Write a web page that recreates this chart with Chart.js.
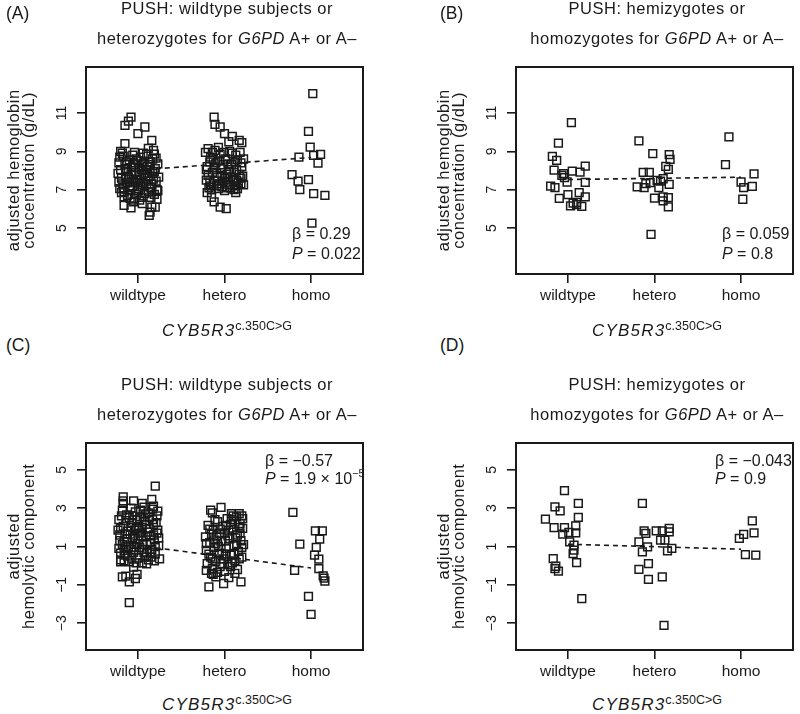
<!DOCTYPE html>
<html lang="en">
<head>
  <meta charset="UTF-8" />
  <title>CYB5R3 c.350C>G and hemoglobin / hemolysis</title>
  <script src="https://cdn.jsdelivr.net/npm/chart.js"></script>
  <style>
    body { margin: 0; background: #fff; }
    #page { position: relative; width: 800px; height: 714px; overflow: hidden; background: #fff; }
    canvas { position: absolute; }
    .t { position: absolute; font-family: "Liberation Sans", Arial, sans-serif; color: #1a1a1a; white-space: nowrap; line-height: 1; }
    .ttl { font-size: 16.5px; letter-spacing: 0.5px; width: 282px; text-align: center; }
    .lab { font-size: 17.5px; }
    .yt { font-size: 16.5px; letter-spacing: 0.5px; width: 240px; height: 16.5px; text-align: center; transform: rotate(-90deg); }
    .xt { font-size: 17px; width: 282px; text-align: center; }
    .xt i { letter-spacing: 1.2px; }
    .sup { position: relative; top: -6.5px; font-size: 12.5px; font-style: normal; }
    .ann { font-size: 16px; }
    .ann .sup { font-size: 11px; top: -7px; }
  </style>
</head>
<body>
<div id="page">
  <canvas id="chartA" width="370" height="310" style="left:0;top:0"></canvas>
  <canvas id="chartB" width="370" height="310" style="left:430px;top:0"></canvas>
  <canvas id="chartC" width="370" height="310" style="left:0;top:376px"></canvas>
  <canvas id="chartD" width="370" height="310" style="left:430px;top:376px"></canvas>

  <div class="t lab" style="left:6px;top:5px">(A)</div>
  <div class="t lab" style="left:440px;top:5px">(B)</div>
  <div class="t lab" style="left:6px;top:337px">(C)</div>
  <div class="t lab" style="left:440px;top:337px">(D)</div>

  <div class="t ttl" style="left:86px;top:0">PUSH: wildtype subjects or</div>
  <div class="t ttl" style="left:86px;top:30px">heterozygotes for <i>G6PD</i> A+ or A–</div>
  <div class="t ttl" style="left:516px;top:0">PUSH: hemizygotes or</div>
  <div class="t ttl" style="left:516px;top:30px">homozygotes for <i>G6PD</i> A+ or A–</div>
  <div class="t ttl" style="left:86px;top:376px">PUSH: wildtype subjects or</div>
  <div class="t ttl" style="left:86px;top:406px">heterozygotes for <i>G6PD</i> A+ or A–</div>
  <div class="t ttl" style="left:516px;top:376px">PUSH: hemizygotes or</div>
  <div class="t ttl" style="left:516px;top:406px">homozygotes for <i>G6PD</i> A+ or A–</div>

  <div class="t yt" style="left:-107px;top:162px">adjusted hemoglobin</div>
  <div class="t yt" style="left:-92px;top:162px">concentration (g/dL)</div>
  <div class="t yt" style="left:323px;top:162px">adjusted hemoglobin</div>
  <div class="t yt" style="left:338px;top:162px">concentration (g/dL)</div>
  <div class="t yt" style="left:-107px;top:538px">adjusted</div>
  <div class="t yt" style="left:-92px;top:538px">hemolytic component</div>
  <div class="t yt" style="left:323px;top:538px">adjusted</div>
  <div class="t yt" style="left:338px;top:538px">hemolytic component</div>

  <div class="t xt" style="left:86px;top:322px"><i>CYB5R3</i><span class="sup">c.350C&gt;G</span></div>
  <div class="t xt" style="left:516px;top:322px"><i>CYB5R3</i><span class="sup">c.350C&gt;G</span></div>
  <div class="t xt" style="left:86px;top:696px"><i>CYB5R3</i><span class="sup">c.350C&gt;G</span></div>
  <div class="t xt" style="left:516px;top:696px"><i>CYB5R3</i><span class="sup">c.350C&gt;G</span></div>

  <div class="t ann" style="left:292px;top:226px">β = 0.29</div>
  <div class="t ann" style="left:292px;top:246px"><i>P</i> = 0.022</div>
  <div class="t ann" style="left:722px;top:226px">β = 0.059</div>
  <div class="t ann" style="left:722px;top:246px"><i>P</i> = 0.8</div>
  <div class="t ann" style="left:265px;top:453px">β = −0.57</div>
  <div class="t ann" style="left:265px;top:471px"><i>P</i> = 1.9 × 10<span class="sup">−5</span></div>
  <div class="t ann" style="left:715px;top:453px">β = −0.043</div>
  <div class="t ann" style="left:715px;top:471px"><i>P</i> = 0.9</div>
</div>

<script>
  // genotype groups on the x axis (positions 1, 2, 3)
  const categories = ['wildtype', 'hetero', 'homo'];

  // y ticks
  const hbTicks = [5, 7, 9, 11];
  const hbTickLabels = ['5', '7', '9', '11'];
  const hcTicks = [-3, -1, 1, 3, 5];
  const hcTickLabels = ['−3', '−1', '1', '3', '5'];

  // (A) hemoglobin, wildtype/heterozygous G6PD : [jittered x, value]
  const aWildtype = [
    [0.92,10.79],[0.89,10.58],[0.85,10.36],[1.08,10.27],[1.00,9.92],[1.16,9.57],[0.85,9.40],[1.12,9.15],[0.80,9.00],
    [0.84,6.62],[0.84,6.18],[1.16,6.09],[1.14,5.83],[1.13,5.66],[1.20,6.09],[1.05,6.27],[0.95,6.36],[1.16,6.88],
    [1.22,6.50],[0.92,6.05],[1.02,6.45],
    [0.78,8.40],[0.81,7.60],[0.79,7.05],[0.83,8.75],[0.86,8.10],[0.88,7.35],[0.84,6.90],[0.90,8.55],[0.92,7.80],
    [0.94,7.20],[0.96,8.95],[0.97,8.30],[0.99,7.55],[1.01,6.95],[1.03,8.70],[1.04,8.05],[1.06,7.40],[1.08,6.80],
    [1.10,8.85],[1.11,8.20],[1.13,7.70],[1.15,7.10],[1.17,8.60],[1.19,7.95],[1.21,7.45],[1.23,8.35],[1.22,7.00],
    [0.80,8.05],[0.82,7.30],[0.87,8.45],[0.89,7.65],[0.91,7.00],[0.93,8.15],[0.95,7.45],[0.98,6.75],[1.00,8.50],
    [1.02,7.75],[1.05,7.15],[1.07,8.40],[1.09,7.60],[1.12,6.90],[1.14,8.00],[1.16,7.30],[1.18,9.05],[1.20,8.10],
    [1.24,7.65],[0.77,7.85],[0.85,8.30],[0.97,7.90],[1.03,7.25],[1.11,7.85],[1.19,6.75],[0.88,6.70],[0.94,8.80],
    [1.06,8.90],[1.14,8.45],[0.83,7.10],[1.00,7.35],[1.09,8.00],[1.18,7.55],
    [0.79,8.70],[0.81,6.85],[0.86,7.55],[0.90,7.15],[0.93,7.55],[0.96,6.55],[0.98,8.60],[1.01,8.15],[1.04,6.60],
    [1.07,7.85],[1.10,7.30],[1.13,8.30],[1.15,6.60],[1.17,7.85],[1.21,8.65],[1.23,6.95],[0.82,8.90],[0.87,7.95],
    [0.91,6.55],[0.95,8.40],[1.00,7.05],[1.05,8.35],[1.12,7.45],[1.19,8.85],[0.78,7.40]
  ];
  const aHetero = [
    [1.88,10.79],[1.89,10.41],[1.95,10.27],[2.00,9.92],[2.09,9.78],[2.17,9.57],[2.20,9.45],[1.81,9.14],[2.05,9.50],
    [1.88,6.36],[1.95,6.09],[2.02,6.01],[1.80,6.85],[2.13,6.85],[1.85,6.60],[2.19,7.30],[2.22,7.25],
    [1.78,8.95],[1.80,8.20],[1.79,7.50],[1.82,7.10],[1.84,8.70],[1.86,7.90],[1.87,7.30],[1.89,9.05],[1.90,8.40],
    [1.92,7.65],[1.93,7.05],[1.95,8.85],[1.96,8.10],[1.98,7.45],[2.00,6.95],[2.01,8.60],[2.03,7.80],[2.05,7.25],
    [2.06,9.00],[2.08,8.30],[2.10,7.55],[2.11,7.00],[2.13,8.80],[2.14,8.05],[2.16,7.35],[2.18,8.95],[2.19,8.40],
    [2.21,7.70],[1.81,7.75],[1.83,8.45],[1.85,7.00],[1.88,8.15],[1.91,7.20],[1.94,8.50],[1.97,7.75],[1.99,8.95],
    [2.02,7.40],[2.04,8.35],[2.07,7.65],[2.09,8.90],[2.12,7.20],[2.15,8.55],[2.17,7.80],[2.20,8.20],[1.86,8.95],
    [1.93,9.20],[2.00,7.60],[2.07,7.10],[2.14,7.50],[1.97,7.15],
    [1.79,8.05],[1.83,7.40],[1.87,8.60],[1.91,7.85],[1.94,7.30],[1.98,8.30],[2.03,7.10],[2.06,8.05],[2.11,7.90],
    [2.15,7.05],[2.19,7.60],[2.22,8.60],[1.84,7.20],[2.04,7.65],[2.12,8.45]
  ];
  const aHomo = [
    [3.02,12.01],[2.97,10.04],[2.99,9.22],[3.03,8.79],[3.11,8.84],[2.86,8.70],[3.08,8.39],
    [2.78,7.78],[2.85,7.45],[2.97,7.52],[2.87,7.00],[3.03,6.79],[3.16,6.70],[3.01,5.26]
  ];
  const aFit = [8.02, 8.68];

  // (B) hemoglobin, hemizygous/homozygous G6PD
  const bWildtype = [
    [1.04,10.50],[0.89,9.43],[0.82,8.74],[0.87,8.53],[0.84,8.02],[0.95,7.84],[1.05,7.97],[1.14,7.92],
    [1.20,8.23],[0.96,7.63],[0.99,7.40],[1.20,7.38],[0.80,7.19],[0.85,7.11],[1.13,6.85],[1.00,6.74],
    [0.90,6.55],[1.20,6.62],[1.03,6.15],[1.10,6.22],[1.16,6.13],[1.10,6.33],[0.93,7.75],[1.06,6.30]
  ];
  const bHetero = [
    [1.82,9.54],[1.98,8.88],[2.17,8.83],[2.18,8.58],[2.13,8.22],[2.16,8.06],[1.87,7.90],[1.94,7.90],
    [2.10,7.57],[2.03,7.49],[2.07,7.45],[1.95,7.37],[1.90,7.32],[2.17,7.28],[1.80,7.14],[1.88,7.11],
    [2.05,7.11],[2.00,6.56],[2.10,6.62],[2.16,6.58],[2.10,6.41],[2.16,6.10],[1.96,4.67]
  ];
  const bHomo = [
    [2.86,9.75],[2.82,8.31],[3.15,7.82],[3.00,7.40],[3.03,7.11],[3.13,7.17],[3.02,6.50]
  ];
  const bFit = [7.53, 7.65];

  // (C) hemolytic component, wildtype/heterozygous G6PD
  const cWildtype = [
    [1.20,4.15],[0.83,3.59],[0.83,3.38],[0.83,3.25],[0.95,3.38],[1.05,3.25],[1.16,3.46],[1.18,3.10],
    [0.95,-0.07],[0.86,-0.55],[0.90,-0.85],[0.97,-0.67],[0.99,-0.45],[0.82,-0.59],[0.90,-1.93],[0.80,0.20],
    [0.84,0.25],[1.10,0.10],
    [0.78,2.40],[0.79,1.60],[0.78,0.90],[0.80,0.30],[0.82,2.90],[0.83,2.05],[0.84,1.25],[0.85,0.55],[0.87,2.65],
    [0.88,1.80],[0.89,1.00],[0.90,0.20],[0.92,3.00],[0.93,2.25],[0.94,1.45],[0.95,0.70],[0.97,2.80],[0.98,1.95],
    [0.99,1.15],[1.00,0.40],[1.02,2.55],[1.03,1.70],[1.04,0.85],[1.05,0.15],[1.07,3.05],[1.08,2.30],[1.09,1.50],
    [1.10,0.65],[1.12,2.75],[1.13,1.95],[1.14,1.20],[1.15,0.45],[1.17,2.95],[1.18,2.15],[1.19,1.35],[1.20,0.60],
    [1.22,2.60],[1.23,1.85],[1.24,1.05],[1.25,0.35],[0.80,1.95],[0.82,1.10],[0.86,2.35],[0.88,0.50],[0.91,1.65],
    [0.94,2.60],[0.96,0.95],[1.00,2.05],[1.01,1.35],[1.03,2.90],[1.06,1.10],[1.08,0.45],[1.11,1.75],[1.13,2.50],
    [1.16,0.85],[1.18,1.60],[1.21,2.25],[1.24,1.45],[0.79,1.30],[0.85,1.65],[0.92,0.85],[0.97,1.40],[1.05,2.00],
    [1.09,2.70],[1.19,0.25],
    [0.77,1.85],[0.81,2.60],[0.84,0.80],[0.87,1.40],[0.90,2.50],[0.93,0.40],[0.96,1.85],[0.99,2.40],[1.02,0.95],
    [1.04,1.55],[1.07,0.70],[1.10,2.15],[1.12,0.30],[1.15,1.55],[1.17,2.40],[1.20,1.00],[1.23,2.85],[0.86,1.00],
    [0.92,2.00],[0.98,0.15],[1.06,2.55],[1.14,0.70],[1.22,1.70],[0.80,0.65],[1.01,1.85]
  ];
  const cHetero = [
    [1.84,2.90],[1.96,3.04],[1.86,2.75],[2.08,2.72],[2.17,2.72],[2.20,2.60],[1.82,-1.11],[1.99,-0.93],[2.19,-0.85],
    [1.90,-0.59],[2.05,-0.62],[1.79,-0.24],[1.87,-0.45],[2.12,-0.40],
    [1.78,1.50],[1.79,0.80],[1.80,0.10],[1.81,2.10],[1.83,1.20],[1.84,0.45],[1.86,-0.15],[1.87,1.85],[1.88,0.95],
    [1.90,0.20],[1.91,1.55],[1.92,2.30],[1.94,0.65],[1.95,-0.05],[1.96,1.25],[1.98,2.05],[1.99,0.35],[2.00,1.70],
    [2.02,0.90],[2.03,2.45],[2.04,0.05],[2.06,1.40],[2.07,2.15],[2.08,0.55],[2.10,1.90],[2.11,1.05],[2.12,0.25],
    [2.14,2.55],[2.15,1.60],[2.16,0.75],[2.18,2.20],[2.19,1.30],[2.20,0.45],[2.21,1.95],[2.22,1.10],[1.82,0.60],
    [1.85,1.65],[1.89,2.40],[1.93,1.00],[1.97,0.60],[2.01,1.30],[2.05,1.85],[2.09,0.15],[2.13,1.45],[2.17,2.00],
    [2.20,0.95],[1.85,-0.40],[2.00,-0.30],[2.15,-0.20],[2.10,2.60],[1.95,1.90],[2.05,1.00],[2.18,1.70],[1.88,1.35],
    [2.02,2.10],
    [1.79,1.15],[1.83,1.90],[1.86,0.35],[1.90,1.15],[1.94,1.70],[1.97,0.10],[2.01,0.60],[2.04,1.55],[2.08,2.40],
    [2.11,0.60],[2.14,1.10],[2.17,0.35],[2.21,2.45],[1.92,-0.35],[2.07,-0.05]
  ];
  const cHomo = [
    [2.79,2.78],[2.87,1.12],[3.05,1.82],[3.13,1.82],[3.10,1.38],[3.06,0.95],[3.04,0.55],[3.09,0.34],
    [2.81,-0.24],[3.09,-0.15],[3.14,-0.53],[3.16,-0.80],[3.15,-0.65],[2.97,-1.60],[3.00,-2.54]
  ];
  const cFit = [1.05, -0.12];

  // (D) hemolytic component, hemizygous/homozygous G6PD
  const dWildtype = [
    [0.96,3.91],[1.12,3.25],[0.85,3.07],[0.91,2.86],[1.12,2.52],[0.74,2.43],[0.84,1.99],[0.96,1.99],
    [1.09,2.08],[1.09,1.71],[0.94,1.64],[1.01,1.73],[1.02,1.24],[1.07,1.07],[1.07,0.81],[1.06,0.63],
    [1.10,0.16],[0.83,0.37],[0.86,-0.03],[0.89,-0.29],[0.85,-0.15],[1.16,-1.72]
  ];
  const dHetero = [
    [1.86,3.25],[1.88,1.82],[1.90,1.68],[2.02,1.82],[2.09,1.82],[2.17,1.94],[2.17,1.76],[2.07,1.33],
    [2.12,1.33],[1.82,1.24],[1.92,0.98],[1.86,0.72],[2.15,0.77],[2.20,0.90],[1.93,0.11],[1.82,-0.19],
    [1.93,-0.71],[2.09,-0.59],[2.11,-3.11]
  ];
  const dHomo = [
    [3.13,2.34],[3.03,1.63],[2.98,1.42],[3.15,1.71],[3.05,0.58],[3.17,0.55]
  ];
  const dFit = [1.12, 0.86];

  const FONT = '"Liberation Sans", Arial, sans-serif';
  const INK = '#1a1a1a';

  // box round the plot area + rotated y tick labels (R style)
  const frame = {
    id: 'frame',
    afterDraw(chart, args, opts) {
      const { ctx, chartArea: a } = chart;
      const y = chart.scales.y;
      ctx.save();
      ctx.lineWidth = 2;
      ctx.strokeStyle = INK;
      ctx.strokeRect(a.left, a.top, a.right - a.left, a.bottom - a.top);
      ctx.font = '14px ' + FONT;
      ctx.fillStyle = INK;
      ctx.textAlign = 'center';
      ctx.textBaseline = 'middle';
      opts.values.forEach((v, i) => {
        ctx.save();
        ctx.translate(a.left - 23.5, y.getPixelForValue(v));
        ctx.rotate(-Math.PI / 2);
        ctx.fillText(opts.labels[i], 0, 0);
        ctx.restore();
      });
      ctx.restore();
    }
  };

  function makePanel(id, groups, fit, yMin, yMax, yTicks, yLabels) {
    const pts = groups.flat().map(([x, y]) => ({ x, y }));
    return new Chart(document.getElementById(id), {
      type: 'scatter',
      data: {
        datasets: [
          {
            data: pts,
            pointStyle: 'rect',
            pointRadius: 5.5,
            pointBorderWidth: 1.5,
            borderColor: INK,
            backgroundColor: 'rgba(0,0,0,0)',
            order: 1
          },
          {
            data: [{ x: 1, y: fit[0] }, { x: 3, y: fit[1] }],
            showLine: true,
            pointRadius: 0,
            borderColor: INK,
            borderWidth: 1.6,
            borderDash: [5, 4],
            order: 2
          }
        ]
      },
      plugins: [frame],
      options: {
        responsive: false,
        animation: false,
        layout: { padding: { top: 67, right: 2, left: 0, bottom: 0 } },
        plugins: {
          legend: { display: false },
          tooltip: { enabled: false },
          frame: { values: yTicks, labels: yLabels }
        },
        scales: {
          x: {
            type: 'linear',
            min: 0.4,
            max: 3.6,
            afterBuildTicks: s => { s.ticks = [1, 2, 3].map(v => ({ value: v })); },
            afterFit: s => { s.height = 36; },
            border: { display: false },
            grid: { drawOnChartArea: false, drawTicks: true, tickLength: 9, lineWidth: 1.6, color: INK },
            ticks: {
              padding: 3,
              color: INK,
              font: { family: FONT, size: 15.5 },
              callback: v => categories[v - 1]
            }
          },
          y: {
            min: yMin,
            max: yMax,
            afterBuildTicks: s => { s.ticks = yTicks.map(v => ({ value: v })); },
            afterFit: s => { s.width = 86; },
            border: { display: false },
            grid: { drawOnChartArea: false, drawTicks: true, tickLength: 9, lineWidth: 1.6, color: INK },
            ticks: { display: false }
          }
        }
      }
    });
  }

  makePanel('chartA', [aWildtype, aHetero, aHomo], aFit, 2.6, 13.4, hbTicks, hbTickLabels);
  makePanel('chartB', [bWildtype, bHetero, bHomo], bFit, 2.6, 13.4, hbTicks, hbTickLabels);
  makePanel('chartC', [cWildtype, cHetero, cHomo], cFit, -4.4, 6.4, hcTicks, hcTickLabels);
  makePanel('chartD', [dWildtype, dHetero, dHomo], dFit, -4.4, 6.4, hcTicks, hcTickLabels);
</script>
</body>
</html>
